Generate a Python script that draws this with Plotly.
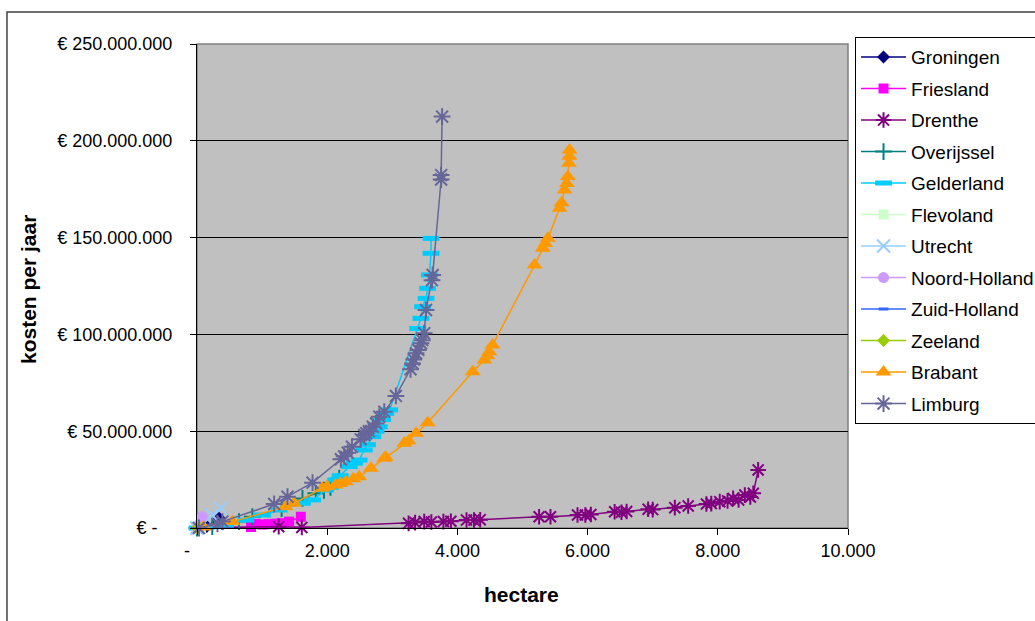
import plotly.graph_objects as go

# ---------------- data (hectare, euro per jaar) ----------------
names = ["Groningen", "Friesland", "Drenthe", "Overijssel", "Gelderland", "Flevoland",
         "Utrecht", "Noord-Holland", "Zuid-Holland", "Zeeland", "Brabant", "Limburg"]

groningen_x = [0, 150, 340, 380]
groningen_y = [0, 0.8e6, 5.0e6, 2.5e6]

friesland_x = [0, 830, 900, 1000, 1100, 1200, 1300, 1415, 1595]
friesland_y = [0, 0.5e6, 2.1e6, 1.8e6, 2.0e6, 2.2e6, 2.5e6, 3.3e6, 5.8e6]

drenthe_x = [0, 1255, 1610, 3250, 3350, 3490, 3600, 3785, 3900, 4140, 4255, 4350, 5255, 5430,
             5845, 5965, 6050, 6415, 6520, 6600, 6930, 7000, 7340, 7545, 7825, 7900, 8030, 8150,
             8235, 8320, 8415, 8500, 8545, 8620]
drenthe_y = [0, 0.7e6, 0.3e6, 2.4e6, 2.8e6, 3.3e6, 3.1e6, 3.3e6, 3.5e6, 4.1e6, 4.1e6, 4.3e6, 5.8e6, 5.8e6,
             6.7e6, 6.7e6, 7.0e6, 8.4e6, 8.1e6, 8.5e6, 9.7e6, 9.5e6, 10.5e6, 11.4e6, 12.4e6, 12.6e6, 13.6e6, 14.0e6,
             15.3e6, 14.5e6, 17.0e6, 16.0e6, 17.9e6, 30.0e6]

overijssel_x = [0, 235, 645, 850, 1300, 1620, 1825, 1950, 2050, 2185]
overijssel_y = [0, 0.7e6, 3.3e6, 5.8e6, 10.0e6, 15.3e6, 17.9e6, 19.5e6, 21.0e6, 25.7e6]

gelderland_x = [0, 150, 440, 750, 1005, 1260, 1620, 1775, 1975, 2050, 2130, 2200, 2340, 2420, 2490,
                2570, 2620, 2700, 2750, 2800, 2850, 2900, 2960, 3390, 3440, 3465, 3518, 3543, 3570,
                3595, 3595]
gelderland_y = [0, 0.5e6, 1.5e6, 4.1e6, 6.7e6, 9.3e6, 12.8e6, 14.5e6, 19.6e6, 21.0e6, 24.8e6, 27.0e6, 31.7e6, 33.5e6, 35.1e6,
                40.3e6, 43.0e6, 47.2e6, 50.0e6, 52.3e6, 56.0e6, 59.2e6, 61.0e6, 103.1e6, 108.3e6, 114.3e6, 118.6e6, 123.8e6, 130.7e6,
                141.9e6, 149.6e6]

flevoland_x = [0, 60]
flevoland_y = [0, 0.4e6]

utrecht_x = [0, 230, 365]
utrecht_y = [0, 6.7e6, 10.2e6]

noordholland_x = [0, 40, 80]
noordholland_y = [0, 2.0e6, 5.8e6]

zuidholland_x = [0, 100, 200]
zuidholland_y = [0, 0.8e6, 1.5e6]

zeeland_x = [0, 20]
zeeland_y = [0, 0.7e6]

brabant_x = [100, 545, 1360, 1490, 1925, 2000, 2130, 2200, 2285, 2400, 2490, 2670, 2877, 2900, 3185,
             3250, 3365, 3543, 4235, 4415, 4460, 4490, 4540, 5185, 5312, 5350, 5390, 5570, 5600, 5646,
             5680, 5697, 5712, 5720, 5723]
brabant_y = [0.5e6, 3.3e6, 11.0e6, 12.8e6, 20.5e6, 21.5e6, 22.2e6, 23.0e6, 23.9e6, 25.5e6, 26.5e6, 30.8e6, 36.0e6, 36.5e6, 43.8e6,
             45.0e6, 48.9e6, 54.4e6, 80.7e6, 86.8e6, 89.0e6, 91.1e6, 94.5e6, 135.8e6, 144.5e6, 147.0e6, 149.6e6, 165.1e6, 168.0e6, 174.6e6,
             178.0e6, 181.5e6, 188.4e6, 192.0e6, 195.2e6]

limburg_x = [30, 315, 390, 1185, 1390, 1775, 2210, 2260, 2315, 2380, 2515, 2570, 2600, 2640, 2700, 2750,
             2800, 2877, 3055, 3280, 3312, 3330, 3365, 3400, 3440, 3460, 3490, 3518, 3610, 3620, 3750,
             3750, 3765]
limburg_y = [0, 2.1e6, 3.3e6, 12.4e6, 16.2e6, 23.4e6, 35.5e6, 37.0e6, 38.9e6, 42.0e6, 45.8e6, 48.0e6, 49.0e6, 50.0e6, 52.3e6, 54.0e6,
             57.5e6, 60.1e6, 68.2e6, 82.0e6, 85.0e6, 87.0e6, 90.2e6, 92.0e6, 95.4e6, 97.0e6, 100.6e6, 112.6e6, 128.0e6, 130.7e6, 180.0e6,
             182.3e6, 212.5e6]

x_tickvals = [0, 2000, 4000, 6000, 8000, 10000]
x_ticktext = ["-\u00a0\u00a0\u00a0\u00a0", "2.000", "4.000", "6.000", "8.000", "10.000"]
y_tickvals = [0, 50e6, 100e6, 150e6, 200e6, 250e6]
y_ticktext = ["€ -\u00a0\u00a0\u00a0", "€ 50.000.000", "€ 100.000.000", "€ 150.000.000",
              "€ 200.000.000", "€ 250.000.000"]

# ---------------- styling ----------------
series = [
    (groningen_x, groningen_y, "#000080", "diamond", 10, 0),
    (friesland_x, friesland_y, "#FF00FF", "square", 10, 0),
    (drenthe_x, drenthe_y, "#800080", "asterisk-open", 13, 2),
    (overijssel_x, overijssel_y, "#008080", "cross-thin-open", 12, 2),
    (gelderland_x, gelderland_y, "#00CCFF", "line-ew-open", 12, 5),
    (flevoland_x, flevoland_y, "#CCFFCC", "square", 10, 0),
    (utrecht_x, utrecht_y, "#99CCFF", "x-thin-open", 13, 2),
    (noordholland_x, noordholland_y, "#CC99FF", "circle", 11, 0),
    (zuidholland_x, zuidholland_y, "#3366FF", "line-ew-open", 7, 3),
    (zeeland_x, zeeland_y, "#99CC00", "diamond", 10, 0),
    (brabant_x, brabant_y, "#FF9900", "triangle-up", 14, 0),
    (limburg_x, limburg_y, "#666699", "asterisk-open", 14, 2),
]

fig = go.Figure()
for name, (xs, ys, col, sym, size, lw) in zip(names, series):
    marker = dict(symbol=sym, size=size, color=col)
    if lw:
        marker["line"] = dict(color=col, width=lw)
    fig.add_trace(go.Scatter(
        x=xs, y=ys, name=name, mode="lines+markers",
        line=dict(color=col, width=1.5), marker=marker,
        cliponaxis=False, legendgroup=name,
    ))

FONT = "Liberation Sans, Arial, sans-serif"

fig.update_layout(
    width=1035, height=621,
    margin=dict(l=197, r=187, t=44, b=93, autoexpand=False),
    paper_bgcolor="white", plot_bgcolor="#C0C0C0",
    font=dict(family=FONT, size=18, color="black"),
    showlegend=True,
    legend=dict(
        x=1.0108, y=1.014, xanchor="left", yanchor="top",
        bgcolor="white", bordercolor="black", borderwidth=1,
        font=dict(family=FONT, size=19, color="black"),
        tracegroupgap=3.8, itemwidth=45, maxheight=600,
    ),
    xaxis=dict(
        range=[0, 10000], tickvals=x_tickvals, ticktext=x_ticktext,
        showgrid=False, zeroline=False, showline=True, linecolor="black", linewidth=1,
        ticks="outside", ticklen=6, tickcolor="black", tickfont=dict(size=18),
    ),
    yaxis=dict(
        range=[0, 250e6], tickvals=y_tickvals, ticktext=y_ticktext,
        showgrid=True, gridcolor="black", gridwidth=1, zeroline=False,
        showline=True, linecolor="black", linewidth=1,
        ticks="outside", ticklen=6, tickcolor="black", tickfont=dict(size=18),
        ticklabelstandoff=14,
    ),
    shapes=[
        dict(type="rect", xref="paper", yref="paper", x0=0, x1=1, y0=0, y1=1,
             line=dict(color="#808080", width=1.5), layer="below"),
        dict(type="rect", xref="paper", yref="paper", x0=-0.2919, x1=1.6, y0=-0.5, y1=1.066,
             line=dict(color="#404040", width=1.5)),
    ],
    annotations=[
        dict(text="<b>kosten per jaar</b>", xref="paper", yref="paper", x=-0.2596, y=0.4917,
             xanchor="center", yanchor="middle",
             textangle=-90, showarrow=False, font=dict(size=21, family=FONT)),
        dict(text="<b>hectare</b>", xref="paper", yref="paper", x=0.4992, y=-0.1384,
             xanchor="center", yanchor="middle",
             showarrow=False, font=dict(size=21, family=FONT)),
    ],
)

fig.write_html("out.html")
